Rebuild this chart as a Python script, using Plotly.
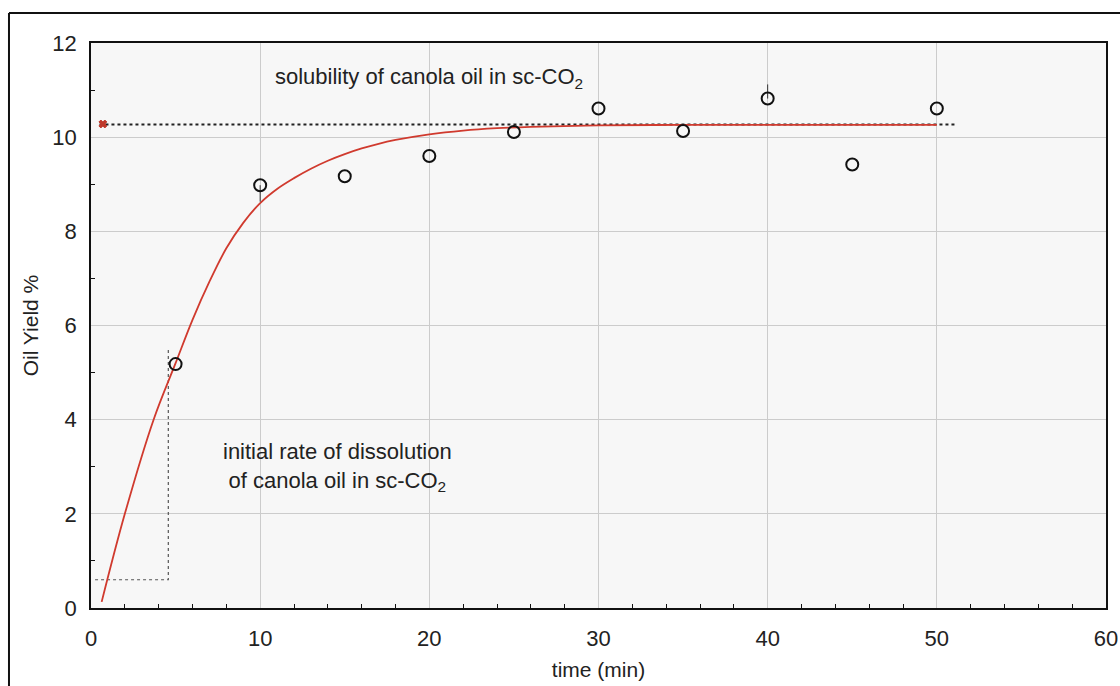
import plotly.graph_objects as go

# Experimental data
time_pts = [5, 10, 15, 20, 25, 30, 35, 40, 45, 50]
yield_pts = [5.18, 8.98, 9.17, 9.6, 10.11, 10.61, 10.13, 10.82, 9.42, 10.61]
err_plus = [0, 0, 0, 0, 0, 0, 0, 0.3, 0, 0]
err_minus = [0, 0.35, 0, 0, 0, 0, 0, 0, 0, 0]

# Fitted curve
curve_t = [0.63, 2.0, 3.7, 5.0, 6.0, 7.0, 8.0, 9.0, 10.0, 11.0, 12.0, 13.0, 14.0, 15.0,
           16.0, 17.0, 18.0, 20.0, 22.0, 24.0, 26.0, 30.0, 35.0, 40.0, 45.0, 50.0]
curve_y = [0.13, 2.0, 4.0, 5.2, 6.12, 6.93, 7.64, 8.18, 8.6, 8.9, 9.13, 9.33, 9.5, 9.64,
           9.76, 9.86, 9.94, 10.06, 10.14, 10.19, 10.22, 10.25, 10.26, 10.26, 10.26, 10.26]

# Solubility line
sol_t = [0.5, 51.2]
sol_y = [10.27, 10.27]

# Initial rate step
rate_t = [0.24, 4.57, 4.57]
rate_y = [0.6, 0.6, 5.48]

FONT = "Liberation Sans, Arial, sans-serif"

fig = go.Figure()

fig.add_trace(go.Scatter(x=sol_t, y=sol_y, mode="lines",
                         line=dict(color="#222222", width=2, dash="dot"), showlegend=False))
fig.add_trace(go.Scatter(x=rate_t, y=rate_y, mode="lines",
                         line=dict(color="#555555", width=1.2, dash="dot"), showlegend=False))
fig.add_trace(go.Scatter(x=curve_t, y=curve_y, mode="lines", line_shape="spline",
                         line=dict(color="#d03a2e", width=1.8), showlegend=False))
fig.add_trace(go.Scatter(x=[0.7], y=[10.28], mode="markers",
                         marker=dict(symbol="x", size=7, color="#c0392b",
                                     line=dict(width=1, color="#c0392b")), showlegend=False))
fig.add_trace(go.Scatter(x=time_pts, y=yield_pts, mode="markers",
                         marker=dict(symbol="circle-open", size=12, color="#111111",
                                     line=dict(width=2, color="#111111")),
                         error_y=dict(type="data", symmetric=False, array=err_plus,
                                      arrayminus=err_minus, width=0, thickness=1, color="#333333"),
                         showlegend=False))

fig.add_annotation(x=20, y=11.26, text="solubility of canola oil in sc-CO<sub>2</sub>",
                   showarrow=False, font=dict(family=FONT, size=22, color="#222222"))
fig.add_annotation(x=14.6, y=3.0, text="initial rate of dissolution<br>of canola oil in sc-CO<sub>2</sub>",
                   showarrow=False, font=dict(family=FONT, size=22, color="#222222"))

# outer frame lines (top and left)
fig.add_shape(type="line", xref="paper", yref="paper", x0=-0.0808, x1=1.05, y0=1.053, y1=1.053,
              line=dict(color="#111111", width=2))
fig.add_shape(type="line", xref="paper", yref="paper", x0=-0.0808, x1=-0.0808, y0=1.053, y1=-0.2,
              line=dict(color="#111111", width=2))

fig.update_xaxes(range=[0, 60], dtick=10, showgrid=True, gridcolor="#cccccc", gridwidth=1,
                 showline=True, linecolor="#111111", linewidth=1.5, mirror=True,
                 ticks="", zeroline=False, ticklabelstandoff=10, automargin=False,
                 minor=dict(dtick=2, ticks="inside", ticklen=4, tickcolor="#111111", showgrid=False),
                 tickfont=dict(family=FONT, size=22, color="#222222"),
                 title=dict(text="time (min)", font=dict(family=FONT, size=21, color="#222222"),
                            standoff=12))
fig.update_yaxes(range=[0, 12], dtick=2, showgrid=True, gridcolor="#cccccc", gridwidth=1,
                 showline=True, linecolor="#111111", linewidth=1.5, mirror=True,
                 ticks="", zeroline=False, ticklabelstandoff=8, automargin=False,
                 minor=dict(dtick=1, ticks="inside", ticklen=4, tickcolor="#111111", showgrid=False),
                 tickfont=dict(family=FONT, size=22, color="#222222"),
                 title=dict(text="Oil Yield %", font=dict(family=FONT, size=21, color="#222222"),
                            standoff=8))

fig.update_layout(width=1120, height=686,
                  margin=dict(l=91, r=14, t=43, b=78),
                  paper_bgcolor="white", plot_bgcolor="#f7f7f7",
                  font=dict(family=FONT, color="#222222"))

fig.write_html("out.html")
